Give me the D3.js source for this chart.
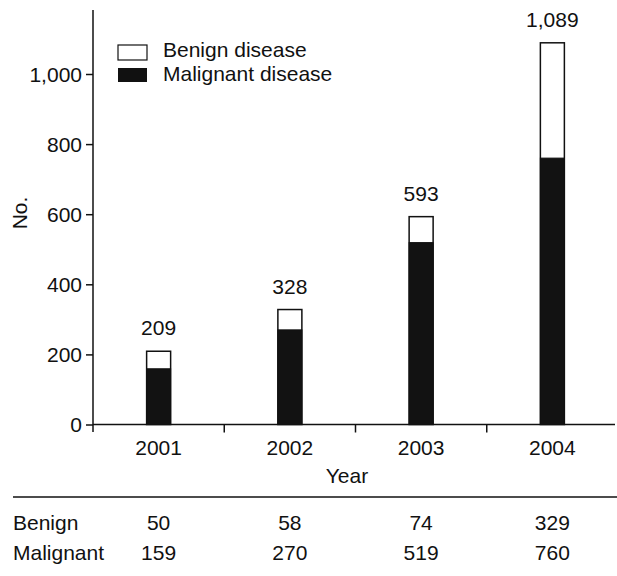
<!DOCTYPE html>
<html>
<head>
<style>
body { margin: 0; background: #fff; }
text { font-family: "Liberation Sans", Arial, sans-serif; font-size: 21px; fill: #111; }
.domain, .tick line { stroke: #111; stroke-width: 1.5; }
</style>
<script src="https://d3js.org/d3.v7.min.js"></script>
</head>
<body>
<svg width="617" height="576"></svg>
<script>
const years = ["2001", "2002", "2003", "2004"];
const benign = [50, 58, 74, 329];
const malignant = [159, 270, 519, 760];
const totals = [209, 328, 593, 1089];
const yTicks = [0, 200, 400, 600, 800, 1000];

const svg = d3.select('svg');

const x = d3.scaleBand().domain(years).range([93, 618]);
const y = d3.scaleLinear().domain([0, 1000]).range([424.5, 74]);
const fmt = d3.format(",");
const barW = 24;

// y axis
const yAxis = d3.axisLeft(y).tickValues(yTicks).tickSize(7).tickPadding(4).tickFormat(fmt);
const yG = svg.append('g').attr('transform', 'translate(93,0)').call(yAxis);
yG.select('.domain').remove();
svg.append('line').attr('x1', 93).attr('x2', 93).attr('y1', 10).attr('y2', 432)
  .attr('stroke', '#111').attr('stroke-width', 1.5);
yG.selectAll('.tick text').attr('dy', '0.35em');

svg.append('text')
  .attr('transform', 'translate(27,213) rotate(-90)')
  .attr('text-anchor', 'middle')
  .text('No.');

// x axis
svg.append('line').attr('x1', 93).attr('x2', 615).attr('y1', y(0)).attr('y2', y(0))
  .attr('stroke', '#111').attr('stroke-width', 1.5);
years.slice(1).forEach(d => {
  svg.append('line').attr('x1', x(d)).attr('x2', x(d)).attr('y1', y(0)).attr('y2', y(0) + 8)
    .attr('stroke', '#111').attr('stroke-width', 1.5);
});
svg.selectAll('.year').data(years).enter().append('text')
  .attr('class', 'year')
  .attr('x', d => x(d) + x.bandwidth() / 2)
  .attr('y', 455)
  .attr('text-anchor', 'middle')
  .text(d => d);
svg.append('text').attr('x', 347).attr('y', 483).attr('text-anchor', 'middle').text('Year');

// bars
const bars = svg.selectAll('.bar').data(years).enter().append('g').attr('class', 'bar');
bars.append('rect')
  .attr('x', d => x(d) + x.bandwidth() / 2 - barW / 2)
  .attr('y', (d, i) => y(totals[i]))
  .attr('width', barW)
  .attr('height', (d, i) => y(0) - y(totals[i]))
  .attr('fill', '#fff').attr('stroke', '#111').attr('stroke-width', 1.5);
bars.append('rect')
  .attr('x', d => x(d) + x.bandwidth() / 2 - barW / 2)
  .attr('y', (d, i) => y(malignant[i]))
  .attr('width', barW)
  .attr('height', (d, i) => y(0) - y(malignant[i]))
  .attr('fill', '#121212').attr('stroke', '#111').attr('stroke-width', 1);
bars.append('text')
  .attr('x', d => x(d) + x.bandwidth() / 2)
  .attr('y', (d, i) => y(totals[i]) - 16)
  .attr('text-anchor', 'middle')
  .text((d, i) => fmt(totals[i]));

// legend
svg.append('rect').attr('x', 118).attr('y', 45).attr('width', 29).attr('height', 15)
  .attr('fill', '#fff').attr('stroke', '#111').attr('stroke-width', 1.2);
svg.append('rect').attr('x', 118).attr('y', 68).attr('width', 29).attr('height', 14)
  .attr('fill', '#111');
svg.append('text').attr('x', 163).attr('y', 57).text('Benign disease');
svg.append('text').attr('x', 163).attr('y', 81).text('Malignant disease');

// table
svg.append('line').attr('x1', 13).attr('x2', 617).attr('y1', 497).attr('y2', 497)
  .attr('stroke', '#111').attr('stroke-width', 1.5);
const rows = [["Benign", benign, 530], ["Malignant", malignant, 560]];
rows.forEach(r => {
  svg.append('text').attr('x', 13).attr('y', r[2]).text(r[0]);
  svg.selectAll(null).data(years).enter().append('text')
    .attr('x', d => x(d) + x.bandwidth() / 2)
    .attr('y', r[2])
    .attr('text-anchor', 'middle')
    .text((d, i) => r[1][i]);
});
</script>
</body>
</html>
